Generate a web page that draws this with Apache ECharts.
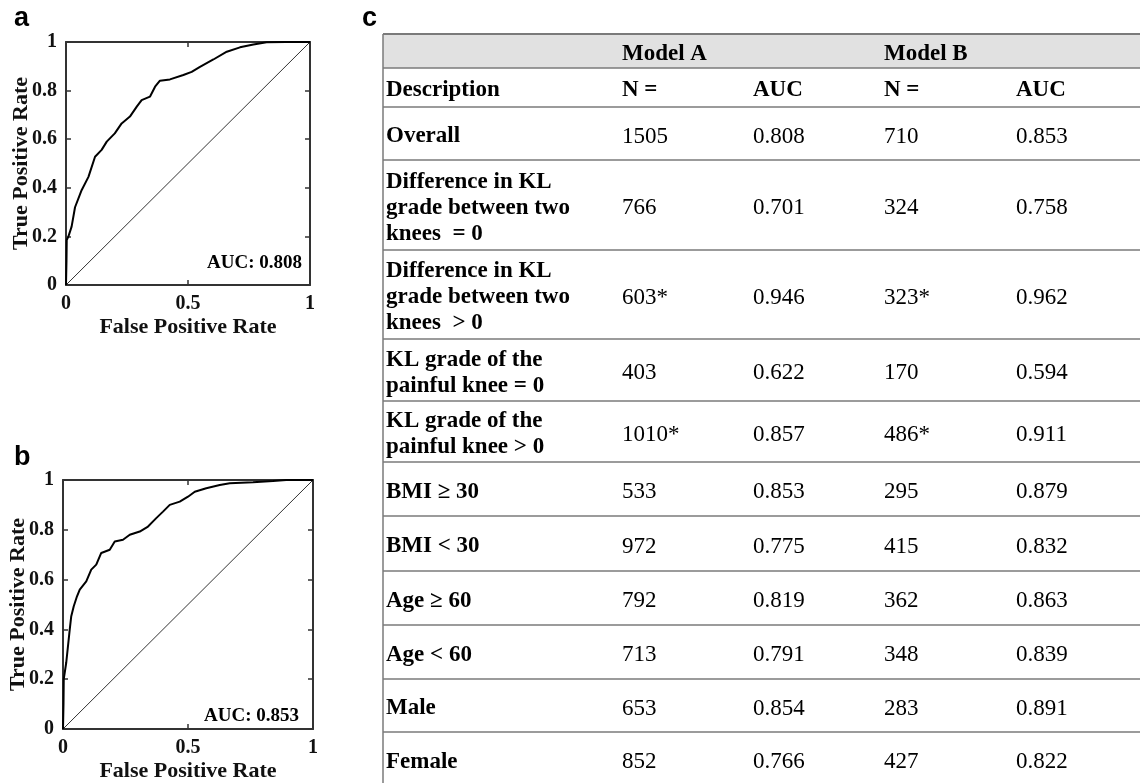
<!DOCTYPE html>
<html>
<head>
<meta charset="utf-8">
<script src="https://cdn.jsdelivr.net/npm/echarts@6/dist/echarts.min.js"></script>
<style>
html,body{margin:0;padding:0;background:#fff;}
#chart{width:1140px;height:783px;}
</style>
</head>
<body>
<div id="chart"></div>
<script>
// ---- ROC data ----
const rocA = [[0,0],[0.002,0.1],[0.003,0.185],[0.01,0.2],[0.023,0.24],[0.037,0.32],[0.064,0.39],[0.092,0.445],[0.119,0.528],[0.146,0.556],[0.167,0.59],[0.2,0.624],[0.228,0.665],[0.262,0.693],[0.29,0.734],[0.31,0.761],[0.344,0.775],[0.365,0.816],[0.385,0.841],[0.426,0.846],[0.481,0.864],[0.515,0.877],[0.549,0.898],[0.604,0.928],[0.659,0.96],[0.713,0.978],[0.768,0.99],[0.822,0.999],[0.9,1],[1,1]];
const rocB = [[0,0],[0.002,0.1],[0.003,0.2],[0.013,0.267],[0.027,0.4],[0.033,0.453],[0.043,0.493],[0.056,0.533],[0.067,0.56],[0.093,0.593],[0.113,0.64],[0.133,0.66],[0.153,0.707],[0.187,0.72],[0.207,0.753],[0.24,0.76],[0.267,0.78],[0.307,0.793],[0.34,0.813],[0.373,0.847],[0.4,0.873],[0.427,0.9],[0.467,0.913],[0.5,0.933],[0.527,0.953],[0.573,0.967],[0.627,0.98],[0.667,0.987],[0.76,0.991],[0.84,0.996],[0.893,1],[1,1]];
const chance = [[0,0],[1,1]];
const aucLabels = ['AUC: 0.808','AUC: 0.853'];
const panelLabels = ['a','b','c'];

// ---- table data ----
const groupHeaders = ['Model A','Model B'];
const colHeaders = ['Description','N =','AUC','N =','AUC'];
const descriptions = ['Overall','Difference in KL\ngrade between two\nknees  = 0','Difference in KL\ngrade between two\nknees  > 0','KL grade of the\npainful knee = 0','KL grade of the\npainful knee > 0','BMI \u2265 30','BMI < 30','Age \u2265 60','Age < 60','Male','Female'];
const modelAN = ['1505','766','603*','403','1010*','533','972','792','713','653','852'];
const modelAAUC = [0.808,0.701,0.946,0.622,0.857,0.853,0.775,0.819,0.791,0.854,0.766];
const modelBN = ['710','324','323*','170','486*','295','415','362','348','283','427'];
const modelBAUC = [0.853,0.758,0.962,0.594,0.911,0.879,0.832,0.863,0.839,0.891,0.822];

// ---- layout ----
const SERIF = '"Liberation Serif","Times New Roman",serif';
const SANS = '"Liberation Sans",Arial,sans-serif';
const grids = [
  {left:66, top:42, width:244, height:243},
  {left:63, top:480, width:250, height:250}
];
const tableLeft = 383, tableRight = 1140;
const rowEdges = [34,68,107,160,250,339,401,462,516,571,625,679,732,786];
const colX = [386,622,753,884,1016];
const textDrop = 3;

const chart = echarts.init(document.getElementById('chart'), null, {renderer:'canvas'});

function axisBase(){
  return {
    type:'value', min:0, max:1,
    axisLine:{show:true, onZero:false, lineStyle:{color:'#333', width:2}},
    axisTick:{show:true, inside:true, length:5, lineStyle:{color:'#333', width:1.5}},
    splitLine:{show:false}
  };
}
const xAxes = [], yAxes = [], series = [];
grids.forEach((g, i) => {
  xAxes.push(Object.assign(axisBase(), {
    gridIndex:i, position:'bottom', interval:0.5,
    name:'False Positive Rate', nameLocation:'middle', nameGap:31, nameMoveOverlap:false,
    nameTextStyle:{fontFamily:SERIF, fontWeight:'bold', fontSize:22, color:'#111'},
    axisLabel:{fontFamily:SERIF, fontWeight:'bold', fontSize:20, color:'#111', margin:9}
  }));
  xAxes.push(Object.assign(axisBase(), {
    gridIndex:i, position:'top', interval:0.5, axisLabel:{show:false}
  }));
  yAxes.push(Object.assign(axisBase(), {
    gridIndex:i, position:'left', interval:0.2,
    name:'True Positive Rate', nameLocation:'middle', nameGap:34, nameRotate:90, nameMoveOverlap:false,
    nameTextStyle:{fontFamily:SERIF, fontWeight:'bold', fontSize:22, color:'#111'},
    axisLabel:{fontFamily:SERIF, fontWeight:'bold', fontSize:20, color:'#111', margin:9, padding:[3,0,0,0]}
  }));
  yAxes.push(Object.assign(axisBase(), {
    gridIndex:i, position:'right', interval:0.2, axisLabel:{show:false}
  }));
  series.push({
    type:'line', xAxisIndex:2*i, yAxisIndex:2*i, data:chance,
    showSymbol:false, silent:true, lineStyle:{color:'#333', width:1}
  });
  series.push({
    type:'line', xAxisIndex:2*i, yAxisIndex:2*i, data: i===0 ? rocA : rocB,
    showSymbol:false, silent:true, lineStyle:{color:'#000', width:2}
  });
});

// ---- graphic: panel labels, AUC texts, table ----
const graphic = [];
function label(txt, x, y, font, align){
  graphic.push({type:'text', z:10, style:{text:txt, x:x, y:y, font:font, fill:'#000', align:align||'left', verticalAlign:'middle'}});
}
label(panelLabels[0], 14, 19, 'bold 27px '+SANS);
label(panelLabels[1], 14, 458, 'bold 27px '+SANS);
label(panelLabels[2], 362, 19, 'bold 27px '+SANS);
label(aucLabels[0], 302, 263, 'bold 19px '+SERIF, 'right');
label(aucLabels[1], 299, 716, 'bold 19px '+SERIF, 'right');

// header fill
graphic.push({type:'rect', shape:{x:tableLeft, y:rowEdges[0], width:tableRight-tableLeft, height:rowEdges[1]-rowEdges[0]}, style:{fill:'#e1e1e1'}});
// horizontal lines
rowEdges.forEach((y, k) => {
  graphic.push({type:'line', shape:{x1:tableLeft, y1:y, x2:tableRight, y2:y}, style:{stroke:'#7a7a7a', lineWidth: k===0 ? 2 : 1.5}});
});
// left border
graphic.push({type:'line', shape:{x1:tableLeft, y1:rowEdges[0], x2:tableLeft, y2:783}, style:{stroke:'#7a7a7a', lineWidth:1.5}});

function cellText(txt, x, yMid, bold){
  graphic.push({type:'text', style:{text:txt, x:x, y:yMid + textDrop, font:(bold?'bold ':'')+'23px '+SERIF, fill:'#000', verticalAlign:'middle', lineHeight:26}});
}
const mid = (k) => (rowEdges[k] + rowEdges[k+1]) / 2;
cellText(groupHeaders[0], colX[1], mid(0), true);
cellText(groupHeaders[1], colX[3], mid(0), true);
colHeaders.forEach((h, c) => cellText(h, colX[c], mid(1), true));
descriptions.forEach((d, r) => {
  const ym = mid(r + 2);
  cellText(d, colX[0], ym, true);
  cellText(modelAN[r], colX[1], ym, false);
  cellText(modelAAUC[r].toFixed(3), colX[2], ym, false);
  cellText(modelBN[r], colX[3], ym, false);
  cellText(modelBAUC[r].toFixed(3), colX[4], ym, false);
});

chart.setOption({
  animation:false,
  backgroundColor:'#fff',
  grid: grids.map(g => Object.assign({containLabel:false}, g)),
  xAxis: xAxes,
  yAxis: yAxes,
  series: series,
  graphic: graphic
});
</script>
</body>
</html>
